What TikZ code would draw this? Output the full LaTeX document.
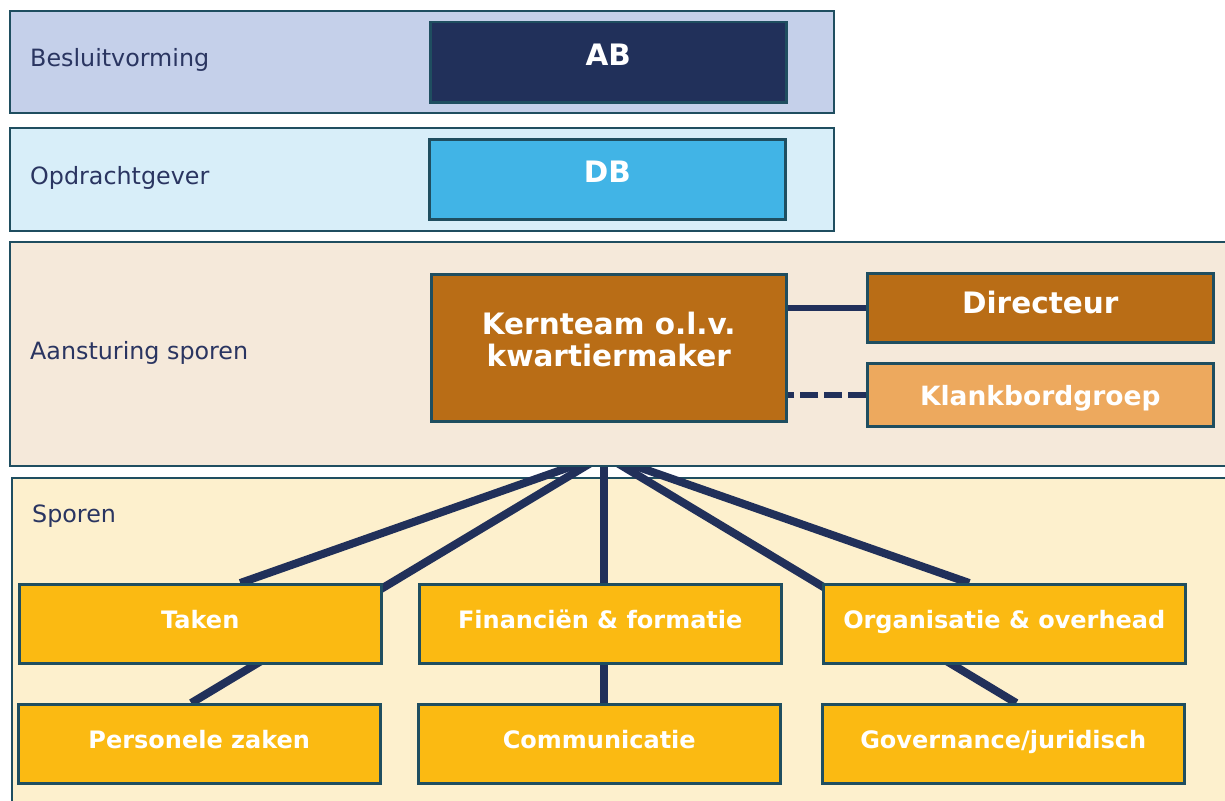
\documentclass[tikz,border=0pt]{standalone}
\usepackage{fontspec}
\setmainfont{DejaVu Sans}
\definecolor{pA}{HTML}{C5D0EA}
\definecolor{pB}{HTML}{D8EEF9}
\definecolor{pC}{HTML}{F5E9DA}
\definecolor{pD}{HTML}{FDF0CD}
\definecolor{navy}{HTML}{21305A}
\definecolor{skyb}{HTML}{41B4E6}
\definecolor{brown}{HTML}{B96D16}
\definecolor{lorange}{HTML}{EDA95E}
\definecolor{yel}{HTML}{FBBA12}
\definecolor{bord}{HTML}{1F4E60}
\definecolor{txt}{HTML}{2A3561}
\pgfdeclarelayer{pbottom}
\pgfdeclarelayer{conn}
\pgfdeclarelayer{ptop}
\pgfsetlayers{pbottom,conn,ptop,main}
\begin{document}
\begin{tikzpicture}[x=1pt,y=-1pt,
  panel/.style={draw=bord, line width=2.2pt, rectangle, inner sep=0pt, anchor=north west},
  lab/.style={text=txt, anchor=base west, inner sep=0pt, font=\fontsize{23.8}{28}\selectfont},
  box/.style={draw=bord, line width=2.5pt, rectangle, inner sep=0pt, anchor=north west, text=white, font=\bfseries\fontsize{29.5}{32}\selectfont, align=center},
  sbox/.style={box, fill=yel, minimum width=362, minimum height=79, font=\bfseries\fontsize{24}{28}\selectfont, text height=17.5pt, text depth=8pt},
  conn/.style={draw=navy, line width=8pt},
  link/.style={draw=navy, line width=6pt}
]
\useasboundingbox (0,0) rectangle (1225,800);
\begin{pgfonlayer}{pbottom}
\fill[white] (0,0) rectangle (1225,800);
\begin{scope}
\clip (0,0) rectangle (1225,800);
\node[panel, fill=pD, minimum width=1230, minimum height=340] (pSpo) at (11,477) {};
\end{scope}
\end{pgfonlayer}
\begin{pgfonlayer}{ptop}
\node[panel, fill=pA, minimum width=824, minimum height=102] (pBes) at (9,10) {};
\node[panel, fill=pB, minimum width=824, minimum height=103] (pOpd) at (9,127) {};
\begin{scope}
\clip (0,0) rectangle (1225,800);
\node[panel, fill=pC, minimum width=1230, minimum height=224] (pAan) at (9,241) {};
\end{scope}
\end{pgfonlayer}

% panel labels
\node[lab] (lBes) at (30,66.5) {Besluitvorming};
\node[lab] (lOpd) at (30,184.5) {Opdrachtgever};
\node[lab] (lAan) at (30,359.5) {Aansturing sporen};
\node[lab] (lSpo) at (32,522) {Sporen};

% boxes
\node[box, fill=navy, minimum width=356, minimum height=80, text height=21.5pt, text depth=15pt] (ab) at (429,21) {AB};
\node[box, fill=skyb, minimum width=356, minimum height=80, text height=21.5pt, text depth=15pt] (db) at (428,138) {DB};
\node[box, fill=brown, minimum width=355, minimum height=147] (kern) at (430,273) {Kernteam o.l.v.\\kwartiermaker\\[-14.6pt]};
\node[box, fill=brown, minimum width=346, minimum height=69, text height=21.5pt, text depth=10pt] (dir) at (866,272) {Directeur};
\node[box, fill=lorange, minimum width=346, minimum height=63, font=\bfseries\fontsize{26.5}{30}\selectfont, text height=22.3pt, text depth=0pt] (klank) at (866,362) {Klankbordgroep};

\node[sbox] (taken) at (18,583) {Taken};
\node[sbox] (fin) at (418,583) {Financiën \& formatie};
\node[sbox] (org) at (822,583) {Organisatie \& overhead};
\node[sbox] (pers) at (17,703) {Personele zaken};
\node[sbox] (comm) at (417,703) {Communicatie};
\node[sbox] (gov) at (821,703) {Governance/juridisch};

% links in aansturing
\draw[link] (kern.east |- 0,307.7) -- (dir.west |- 0,307.7);
\draw[link, dash pattern=on 18pt off 6pt] (klank.west |- 0,395) -- (kern.east |- 0,395);

% connectors to sporen
\coordinate (hub) at (604,455);
\begin{pgfonlayer}{conn}
\draw[conn] (hub) -- ([xshift=40pt]taken.north);
\draw[conn] (hub) -- ([xshift=-8pt]pers.north);
\draw[conn] (hub) -- (hub |- comm.north);
\draw[conn] (hub) -- ([xshift=-35pt]org.north);
\draw[conn] (hub) -- ([xshift=13pt]gov.north);
\end{pgfonlayer}
\end{tikzpicture}
\end{document}
